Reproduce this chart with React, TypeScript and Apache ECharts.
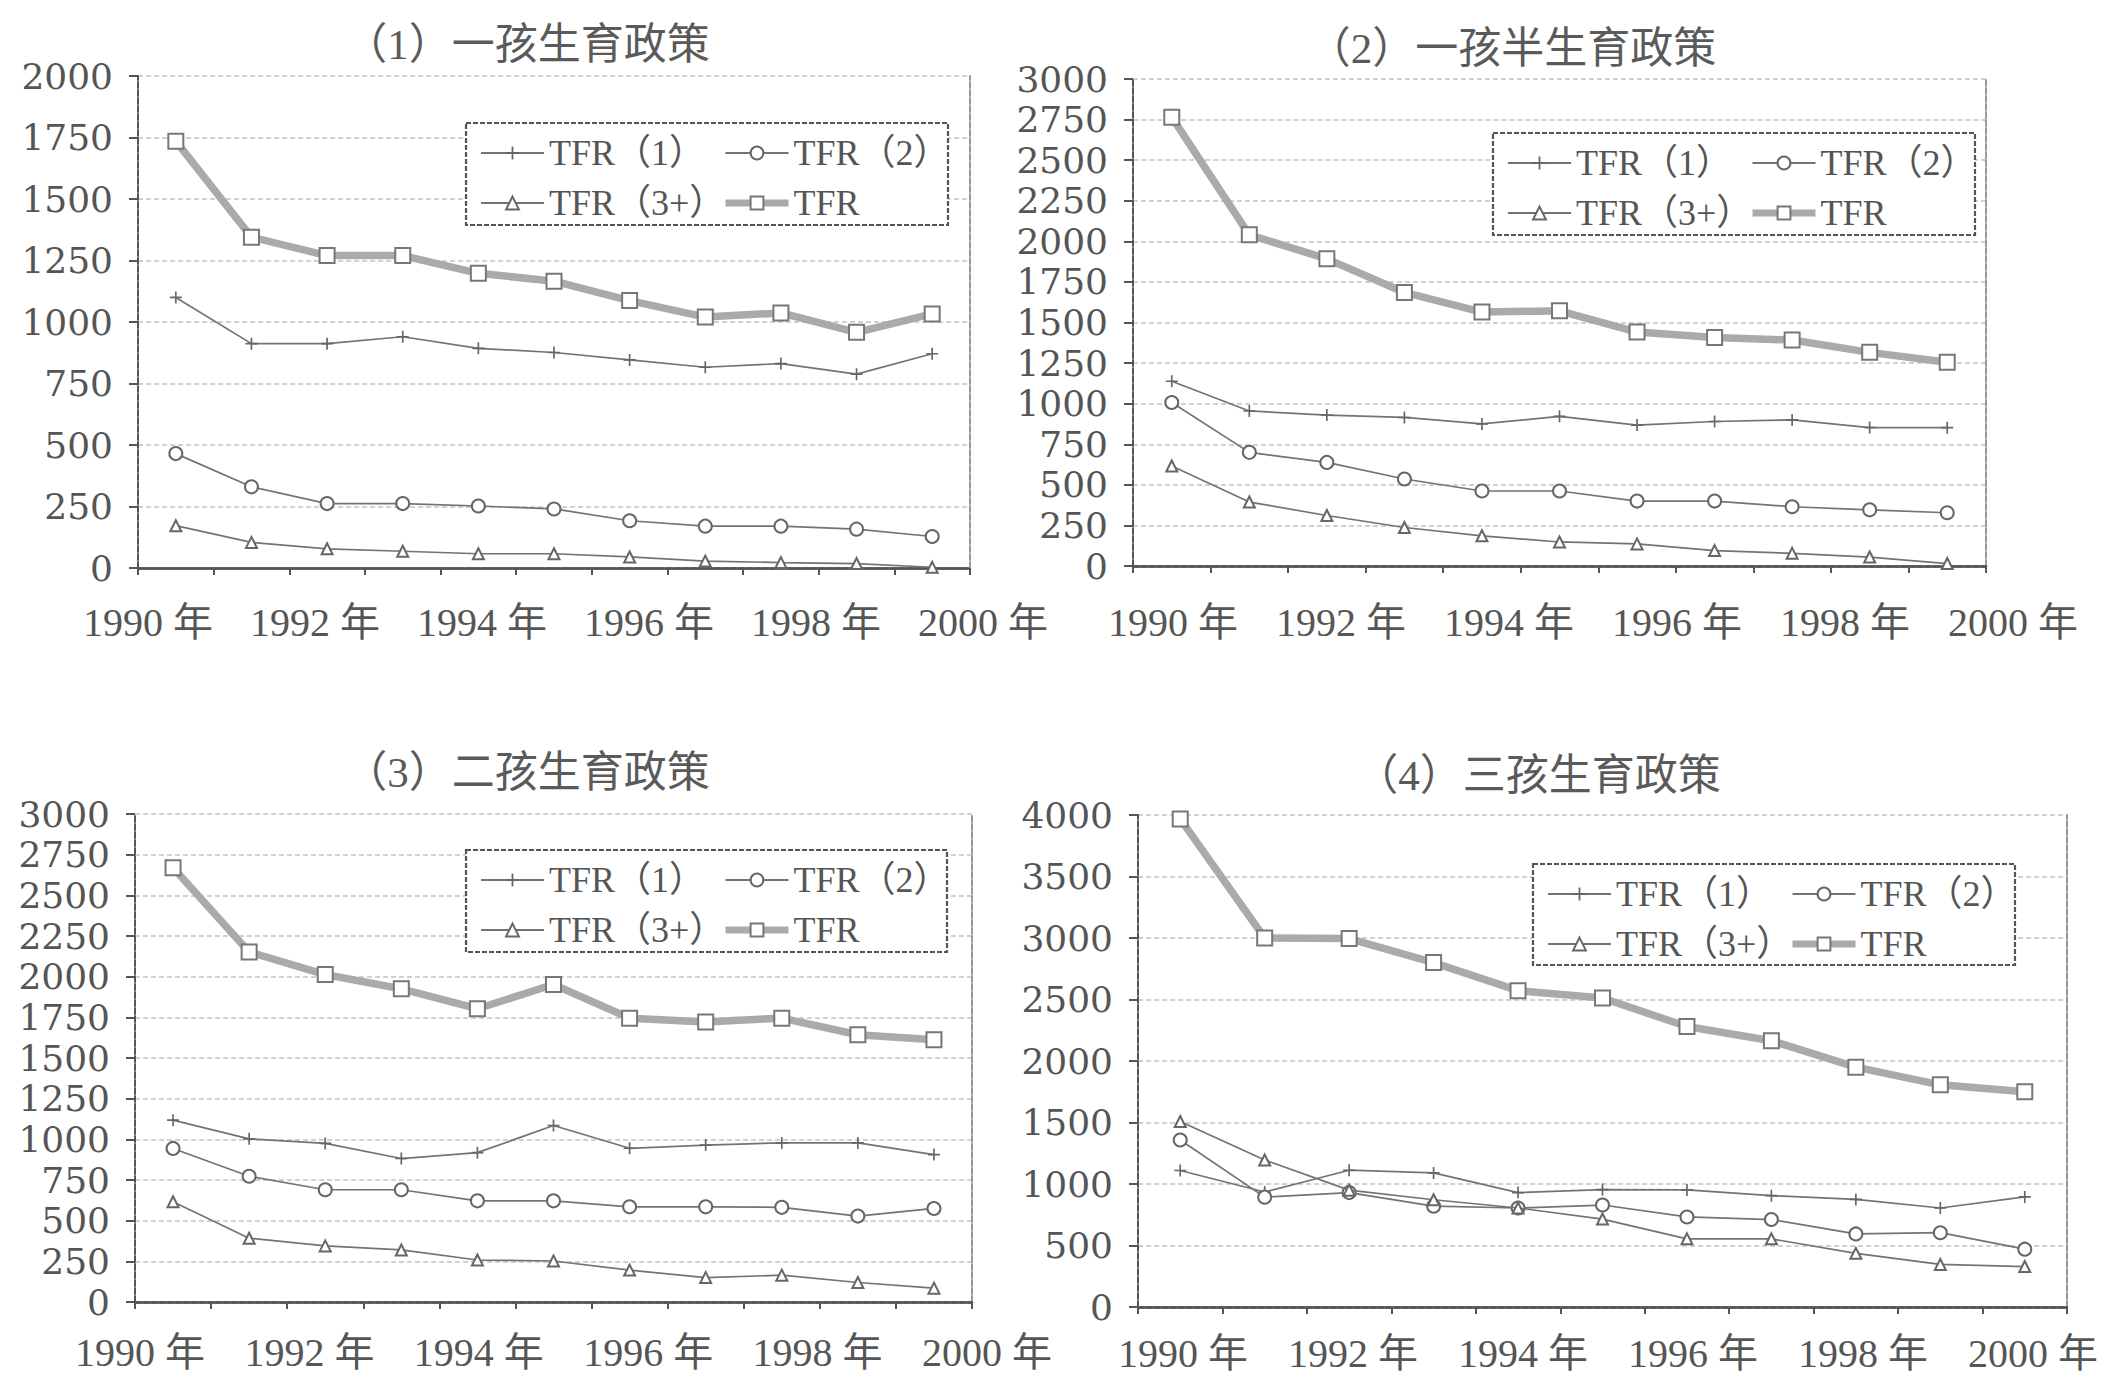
import React, { useEffect, useRef } from "react";
import * as echarts from "echarts";

// ---------- data ----------
const YEARS = ["1990", "1991", "1992", "1993", "1994", "1995", "1996", "1997", "1998", "1999", "2000"];
const SERIES_NAMES = ["TFR（1）", "TFR（2）", "TFR（3+）", "TFR"];
const TITLES = ["（1）一孩生育政策", "（2）一孩半生育政策", "（3）二孩生育政策", "（4）三孩生育政策"];
const Y_MAX = [2000, 3000, 3000, 4000];
const Y_STEP = [250, 250, 250, 500];
const X_LABEL_MIN = 1990;
const X_LABEL_MAX = 2000;
const X_LABEL_STEP = 2;

// (1) one-child policy
const P1_TFR1 = [1100, 912, 912, 940, 893, 876, 846, 816, 831, 788, 871];
const P1_TFR2 = [465, 330, 262, 262, 252, 240, 192, 170, 170, 158, 128];
const P1_TFR3 = [172, 104, 78, 68, 58, 58, 45, 28, 22, 18, 3];
const P1_TFR = [1735, 1345, 1270, 1270, 1198, 1166, 1087, 1020, 1037, 958, 1033];

// (2) one-and-a-half-child policy
const P2_TFR1 = [1138, 955, 930, 915, 875, 922, 868, 890, 900, 853, 852];
const P2_TFR2 = [1007, 700, 638, 536, 462, 462, 400, 400, 365, 346, 328];
const P2_TFR3 = [616, 394, 311, 237, 186, 148, 136, 95, 78, 55, 15];
const P2_TFR = [2765, 2040, 1892, 1685, 1564, 1572, 1441, 1407, 1392, 1316, 1255];

// (3) two-child policy
const P3_TFR1 = [1118, 1003, 975, 882, 918, 1085, 945, 965, 978, 978, 906];
const P3_TFR2 = [944, 773, 690, 690, 622, 622, 585, 585, 582, 528, 575];
const P3_TFR3 = [616, 392, 345, 320, 258, 252, 196, 150, 165, 120, 85];
const P3_TFR = [2670, 2152, 2013, 1925, 1803, 1952, 1745, 1722, 1745, 1643, 1612];

// (4) three-child policy
const P4_TFR1 = [1110, 935, 1112, 1090, 930, 955, 952, 905, 875, 805, 895];
const P4_TFR2 = [1358, 893, 930, 820, 805, 829, 732, 711, 594, 604, 470];
const P4_TFR3 = [1508, 1195, 950, 872, 805, 715, 554, 554, 436, 346, 329];
const P4_TFR = [3968, 3000, 2995, 2800, 2572, 2512, 2280, 2165, 1950, 1806, 1750];

const PANEL_DATA = [
  [P1_TFR1, P1_TFR2, P1_TFR3, P1_TFR],
  [P2_TFR1, P2_TFR2, P2_TFR3, P2_TFR],
  [P3_TFR1, P3_TFR2, P3_TFR3, P3_TFR],
  [P4_TFR1, P4_TFR2, P4_TFR3, P4_TFR],
];

// ---------- layout (pixels) ----------
const LAYOUT = [
  { grid: { left: 138, top: 76, width: 832, height: 492 }, label: { left: 148, width: 835, y: 622 }, box: { x: 466, y: 123, w: 482, h: 102 }, title: { x: 527, y: 44 } },
  { grid: { left: 1133, top: 79, width: 853, height: 487 }, label: { left: 1173, width: 840, y: 622 }, box: { x: 1493, y: 133, w: 482, h: 102 }, title: { x: 1512, y: 48 } },
  { grid: { left: 135, top: 814, width: 837, height: 488 }, label: { left: 140, width: 847, y: 1352 }, box: { x: 466, y: 850, w: 481, h: 102 }, title: { x: 527, y: 772 } },
  { grid: { left: 1138, top: 815, width: 929, height: 492 }, label: { left: 1183, width: 850, y: 1353 }, box: { x: 1533, y: 864, w: 482, h: 101 }, title: { x: 1538, y: 775 } },
];

const FONT = '"Liberation Serif", "Noto Sans CJK SC", serif';
const Y_FONT = '"DejaVu Serif", "Liberation Serif", serif';
const TEXT_COLOR = "#555";
const PLUS = "path://M4.3,0h1.4v4.3h4.3v1.4h-4.3v4.3h-1.4v-4.3h-4.3v-1.4h4.3z";

const SERIES_STYLE = [
  { symbol: PLUS, symbolSize: 12, lineStyle: { color: "#737373", width: 1.7 }, itemStyle: { color: "#666" } },
  { symbol: "emptyCircle", symbolSize: 13, lineStyle: { color: "#737373", width: 1.7 }, itemStyle: { color: "#666", borderWidth: 1.5 } },
  { symbol: "emptyTriangle", symbolSize: 11, lineStyle: { color: "#737373", width: 1.7 }, itemStyle: { color: "#666", borderWidth: 1.5 } },
  { symbol: "emptyRect", symbolSize: 15, lineStyle: { color: "#aaaaaa", width: 7.5 }, itemStyle: { color: "#777", borderWidth: 1.6 } },
];

function buildOption() {
  const grid: any[] = [];
  const xAxis: any[] = [];
  const yAxis: any[] = [];
  const series: any[] = [];
  const legend: any[] = [];
  const graphic: any[] = [];

  LAYOUT.forEach((L, i) => {
    const gp = grid.length;
    grid.push({ ...L.grid, containLabel: false });
    const gl = grid.length;
    grid.push({ left: L.label.left, width: L.label.width, top: L.grid.top + L.grid.height - 10, height: 10 });

    const xi = xAxis.length;
    xAxis.push({
      type: "category", gridIndex: gp, data: YEARS, boundaryGap: true, position: "bottom",
      axisLabel: { show: false },
      axisTick: { show: true, length: 7, lineStyle: { color: "#555", width: 2 } },
      axisLine: { show: true, lineStyle: { color: "#555", width: 2.5, type: [6, 2] } },
      splitLine: { show: false },
    });
    xAxis.push({
      type: "category", gridIndex: gp, data: YEARS, position: "top",
      axisLabel: { show: false }, axisTick: { show: false }, splitLine: { show: false },
      axisLine: { show: true, lineStyle: { color: "#555", width: 2.5, type: [6, 2] } },
    });
    xAxis.push({
      type: "value", gridIndex: gl, min: X_LABEL_MIN, max: X_LABEL_MAX, interval: X_LABEL_STEP,
      axisLine: { show: false }, axisTick: { show: false }, splitLine: { show: false },
      axisLabel: {
        fontSize: 40, color: TEXT_COLOR, fontFamily: FONT, verticalAlign: "middle",
        showMinLabel: true, showMaxLabel: true,
        margin: L.label.y - (L.grid.top + L.grid.height),
        formatter: (v: number) => `${v} 年`,
      },
    });

    const yi = yAxis.length;
    yAxis.push({
      type: "value", gridIndex: gp, min: 0, max: Y_MAX[i], interval: Y_STEP[i], position: "left",
      axisLabel: {
        fontSize: 36, lineHeight: 36, color: TEXT_COLOR, fontFamily: Y_FONT, margin: 25,
        showMinLabel: true, showMaxLabel: true, formatter: (v: number) => String(v),
      },
      axisLine: { show: true, lineStyle: { color: "#555", width: 2, type: [6, 2] } },
      axisTick: { show: true, length: 9, lineStyle: { color: "#555", width: 2 } },
      splitLine: { show: true, lineStyle: { color: "#c2c2c2", width: 1.5, type: [5, 3] } },
    });
    yAxis.push({
      type: "value", gridIndex: gp, min: 0, max: Y_MAX[i], interval: Y_STEP[i], position: "right",
      axisLabel: { show: false }, axisTick: { show: false }, splitLine: { show: false },
      axisLine: { show: true, lineStyle: { color: "#999", width: 2, type: [6, 2] } },
    });
    yAxis.push({ type: "value", gridIndex: gl, show: false, min: 0, max: 1 });

    PANEL_DATA[i].forEach((d, k) => {
      series.push({
        type: "line", name: SERIES_NAMES[k], xAxisIndex: xi, yAxisIndex: yi, data: d,
        showSymbol: true, ...SERIES_STYLE[k], z: 2 + k,
      });
    });

    const B = L.box;
    graphic.push({
      type: "rect", z: 5, shape: { x: B.x, y: B.y, width: B.w, height: B.h },
      style: { fill: "#fff", stroke: "#555", lineWidth: 2.2, lineDash: [5, 2] },
    });
    graphic.push({
      type: "text", z: 5, x: L.title.x, y: L.title.y,
      style: { text: TITLES[i], fontSize: 43, fontFamily: FONT, fill: "#5a5a5a", align: "center", verticalAlign: "middle" },
    });
    const common = {
      orient: "vertical", itemWidth: 63, itemHeight: 16, itemGap: 14, padding: 0, z: 10,
      selectedMode: false, itemTextGap: 5,
      textStyle: { fontSize: 36, color: TEXT_COLOR, fontFamily: FONT, lineHeight: 34 },
    };
    legend.push({ ...common, left: B.x + 14, top: B.y + 12, data: [SERIES_NAMES[0], SERIES_NAMES[2]] });
    legend.push({
      ...common, left: B.x + 256, top: B.y + 12,
      data: [
        SERIES_NAMES[1],
        { name: SERIES_NAMES[3], lineStyle: { width: 7, color: "#aaaaaa" } },
      ],
    });
  });

  return {
    animation: false,
    backgroundColor: "#fff",
    grid, xAxis, yAxis, series, legend, graphic,
  };
}

export default function App() {
  const ref = useRef<HTMLDivElement>(null);
  useEffect(() => {
    if (!ref.current) return;
    const chart = echarts.init(ref.current, undefined, { renderer: "svg" });
    chart.setOption(buildOption() as any);
    return () => chart.dispose();
  }, []);
  return (
    <div
      ref={ref}
      style={{ position: "fixed", left: 0, top: 0, width: 2111, height: 1374, background: "#fff" }}
    />
  );
}
